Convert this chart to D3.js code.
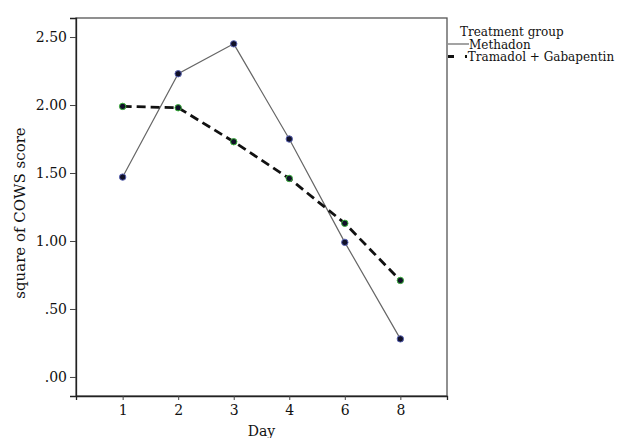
<!DOCTYPE html>
<html>
<head>
<meta charset="utf-8">
<script src="https://cdn.jsdelivr.net/npm/d3@7"></script>
<style>
    body { margin: 0; background: #fff; }
    text { font-family: "DejaVu Serif", serif; }
</style>
</head>
<body>
<script>
const days = ['1', '2', '3', '4', '6', '8'];
const methadon = [1.47, 2.23, 2.45, 1.75, 0.99, 0.28];
const tramadol = [1.99, 1.98, 1.73, 1.46, 1.13, 0.71];
const yTicks = [0, 0.5, 1, 1.5, 2, 2.5];
const legendTitle = 'Treatment group';
const seriesNames = ['Methadon', 'Tramadol + Gabapentin'];

window.onload = () => {
    const width = 617;
    const height = 438;
    const margin = { top: 18, right: 170, bottom: 42, left: 76 };

    const svg = d3.select('body')
                  .append('svg')
                  .attr('width', width)
                  .attr('height', height);

    const x = d3.scalePoint()
          .domain(days)
          .range([margin.left, width - margin.right])
          .padding(0.84);

    const y = d3.scaleLinear()
          .domain([-0.14, 2.64])
          .range([height - margin.bottom, margin.top]);

    const fmt = (d) => d3.format('.2f')(d).replace(/^0/, '');

    // frame
    svg.append('rect')
       .attr('x', margin.left)
       .attr('y', margin.top)
       .attr('width', width - margin.right - margin.left)
       .attr('height', height - margin.bottom - margin.top)
       .style('fill', 'none')
       .style('stroke', '#555')
       .style('stroke-width', '1.3px');

    // axes
    const xAxis = svg.append('g')
          .attr('transform', `translate(0, ${height - margin.bottom})`)
          .call(d3.axisBottom(x).tickSize(4).tickPadding(5));

    const yAxis = svg.append('g')
          .attr('transform', `translate(${margin.left}, 0)`)
          .call(d3.axisLeft(y).tickValues(yTicks).tickFormat(fmt).tickSize(6).tickPadding(3));

    [xAxis, yAxis].forEach((a) => {
        a.select('.domain').style('stroke', '#222').style('stroke-width', '1.3px');
        a.selectAll('.tick line').style('stroke', '#444');
        a.selectAll('.tick text')
         .style('font-family', '"DejaVu Serif", serif')
         .style('font-size', '14px')
         .style('fill', '#111');
    });

    // axis titles
    svg.append('text')
       .text('Day')
       .attr('x', (margin.left + width - margin.right) / 2)
       .attr('y', 436)
       .attr('text-anchor', 'middle')
       .style('font-size', '14px')
       .style('fill', '#111');

    svg.append('text')
       .text('square of COWS  score')
       .attr('transform', `translate(25, 213) rotate(-90)`)
       .attr('text-anchor', 'middle')
       .style('font-size', '15px')
       .style('fill', '#111');

    const line = d3.line()
          .x((d, i) => x(days[i]))
          .y((d) => y(d));

    // methadon
    svg.append('path')
       .attr('d', line(methadon))
       .style('fill', 'none')
       .style('stroke', '#666')
       .style('stroke-width', '1.2px');

    // tramadol + gabapentin
    svg.append('path')
       .attr('d', line(tramadol))
       .style('fill', 'none')
       .style('stroke', '#111')
       .style('stroke-width', '2.8px')
       .style('stroke-dasharray', '9,5');

    const appendMarkers = (values, outline) => {
        svg.append('g')
           .selectAll('circle')
           .data(values)
           .enter()
           .append('circle')
           .attr('cx', (d, i) => x(days[i]))
           .attr('cy', (d) => y(d))
           .attr('r', 3.2)
           .style('fill', '#101028')
           .style('stroke', outline)
           .style('stroke-width', '1px');
    };
    appendMarkers(methadon, '#5a64b4');
    appendMarkers(tramadol, '#3cb43c');

    // legend
    const lx = width - margin.right;
    const legend = svg.append('g');

    legend.append('text')
          .text(legendTitle)
          .attr('x', lx + 13)
          .attr('y', 36)
          .style('font-size', '12px')
          .style('fill', '#111');

    legend.append('line')
          .attr('x1', lx + 1).attr('x2', lx + 22)
          .attr('y1', 44).attr('y2', 44)
          .style('stroke', '#666')
          .style('stroke-width', '1.2px');

    legend.append('text')
          .text(seriesNames[0])
          .attr('x', lx + 22)
          .attr('y', 48.5)
          .style('font-size', '12px')
          .style('fill', '#111');

    legend.append('line')
          .attr('x1', lx + 1).attr('x2', lx + 20)
          .attr('y1', 56.5).attr('y2', 56.5)
          .style('stroke', '#111')
          .style('stroke-width', '2.8px')
          .style('stroke-dasharray', '6,11');

    legend.append('text')
          .text('·' + seriesNames[1])
          .attr('x', lx + 17)
          .attr('y', 61)
          .style('font-size', '12px')
          .style('fill', '#111');
};
</script>
</body>
</html>
